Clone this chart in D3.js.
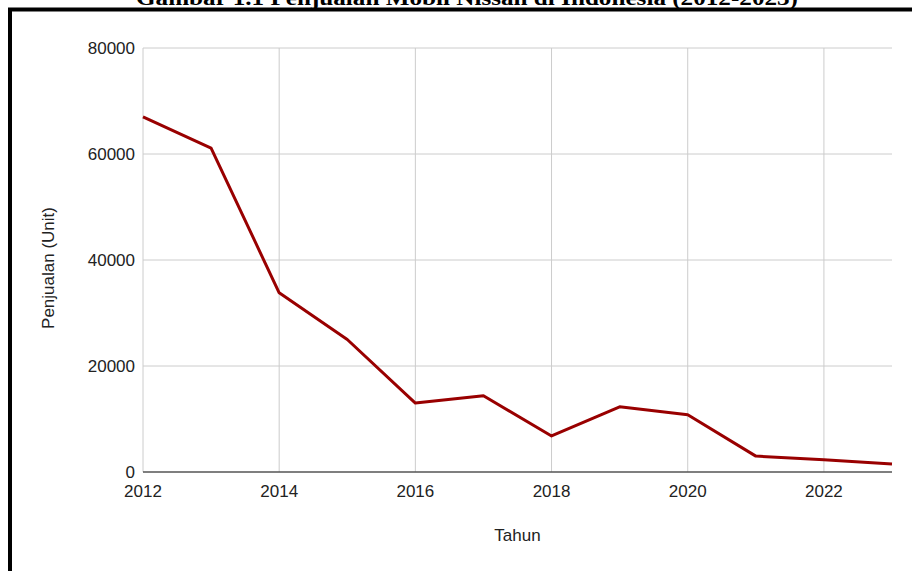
<!DOCTYPE html>
<html>
<head>
<meta charset="utf-8">
<script src="https://cdn.jsdelivr.net/npm/d3@7"></script>
<style>
  body { margin: 0; background: #fff; }
  svg { display: block; }
</style>
</head>
<body>
<svg></svg>
<script>
// data
const years = [2012, 2013, 2014, 2015, 2016, 2017, 2018, 2019, 2020, 2021, 2022, 2023];
const sales = [67000, 61100, 33800, 25000, 13000, 14400, 6800, 12300, 10800, 3000, 2300, 1500];
const yTicks = [0, 20000, 40000, 60000, 80000];
const xTicks = [2012, 2014, 2016, 2018, 2020, 2022];

const W = 912, H = 571;
const svg = d3.select('svg')
    .attr('width', W)
    .attr('height', H);

svg.append('rect')
    .attr('width', W)
    .attr('height', H)
    .attr('fill', '#fff');

// caption clipped at the top
svg.append('text')
    .text('Gambar 1.1 Penjualan Mobil Nissan di Indonesia (2012-2023)')
    .attr('x', 467)
    .attr('y', 5)
    .attr('text-anchor', 'middle')
    .attr('textLength', 662)
    .attr('lengthAdjust', 'spacingAndGlyphs')
    .attr('font-family', '"Liberation Serif", "Times New Roman", serif')
    .attr('font-weight', 'bold')
    .attr('font-size', 22)
    .attr('fill', '#000');

// frame
svg.append('rect')
    .attr('x', 10)
    .attr('y', 9.5)
    .attr('width', 1000)
    .attr('height', 1000)
    .attr('fill', 'none')
    .attr('stroke', '#000')
    .attr('stroke-width', 4);

const x = d3.scaleLinear().domain([2012, 2023]).range([143, 892]);
const y = d3.scaleLinear().domain([0, 80000]).range([472, 48]);

const font = '"Liberation Sans", Arial, sans-serif';

// grid
svg.append('g')
    .selectAll('line')
    .data(yTicks.filter(d => d > 0))
    .join('line')
    .attr('x1', x(2012))
    .attr('x2', x(2023))
    .attr('y1', d => y(d))
    .attr('y2', d => y(d))
    .attr('stroke', '#ccc')
    .attr('stroke-width', 1);

svg.append('g')
    .selectAll('line')
    .data(xTicks)
    .join('line')
    .attr('x1', d => x(d))
    .attr('x2', d => x(d))
    .attr('y1', y(80000))
    .attr('y2', y(0))
    .attr('stroke', '#ccc')
    .attr('stroke-width', 1);

// baseline
svg.append('line')
    .attr('x1', x(2012))
    .attr('x2', x(2023))
    .attr('y1', y(0))
    .attr('y2', y(0))
    .attr('stroke', '#555')
    .attr('stroke-width', 1.5);

// tick labels
svg.append('g')
    .selectAll('text')
    .data(yTicks)
    .join('text')
    .text(d => d)
    .attr('x', 135)
    .attr('y', d => y(d))
    .attr('dy', '0.35em')
    .attr('text-anchor', 'end')
    .attr('font-family', font)
    .attr('font-size', 17)
    .attr('fill', '#222');

svg.append('g')
    .selectAll('text')
    .data(xTicks)
    .join('text')
    .text(d => d)
    .attr('x', d => x(d))
    .attr('y', 497)
    .attr('text-anchor', 'middle')
    .attr('font-family', font)
    .attr('font-size', 17)
    .attr('fill', '#222');

// axis titles
svg.append('text')
    .text('Tahun')
    .attr('x', x(2017.5))
    .attr('y', 541)
    .attr('text-anchor', 'middle')
    .attr('font-family', font)
    .attr('font-size', 17)
    .attr('fill', '#222');

svg.append('text')
    .text('Penjualan (Unit)')
    .attr('transform', 'translate(54,268) rotate(-90)')
    .attr('text-anchor', 'middle')
    .attr('font-family', font)
    .attr('font-size', 17)
    .attr('fill', '#222');

// series
const line = d3.line()
    .x((d, i) => x(years[i]))
    .y(d => y(d));

svg.append('path')
    .datum(sales)
    .attr('d', line)
    .attr('fill', 'none')
    .attr('stroke', '#990000')
    .attr('stroke-width', 3)
    .attr('stroke-linejoin', 'round');
</script>
</body>
</html>
